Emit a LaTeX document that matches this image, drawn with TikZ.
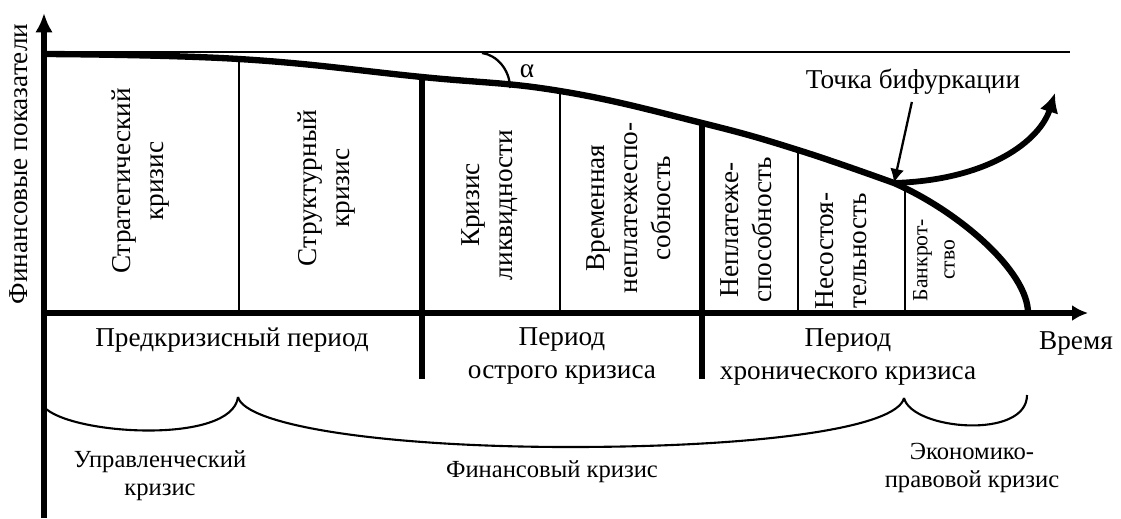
\documentclass[tikz,border=0pt]{standalone}
\usepackage{fontspec}
\setmainfont{Liberation Serif}
\usetikzlibrary{arrows.meta}

\begin{document}
\begin{tikzpicture}[x=0.02cm,y=-0.02cm,>=Latex,
  thinline/.style={line width=1.3pt},
  thickline/.style={line width=3.3pt},
  curveline/.style={line width=3.6pt},
  braceline/.style={line width=1.2pt},
  every node/.style={font=\fontsize{15.5}{18.8}\selectfont,align=center,inner sep=1pt},
  vtext/.style={rotate=90},
  smalltext/.style={font=\fontsize{14}{15.8}\selectfont},
  tinytext/.style={font=\fontsize{12.3}{15.5}\selectfont}]
\useasboundingbox (0,0) rectangle (1121,518);
% axes
\coordinate (o) at (44,313);
\coordinate (ytop) at (44,13);
\coordinate (ybot) at (44,518);
\coordinate (xend) at (1088,313);
\coordinate (low) at (44,379);
\draw[thickline,-{Latex[length=11pt,width=10pt]}] (ybot) -- (ytop);
\draw[thickline,-{Latex[length=9pt,width=9pt]}] (o) -- (xend);
\coordinate (top0) at (44,52);
\coordinate (top1) at (1070,52);
\draw[thinline] (top0) -- (top1);
% curve
\coordinate (c0) at (44,54);
\coordinate (c1) at (239,59);
\coordinate (c2) at (422,77);
\coordinate (c3) at (560,91);
\coordinate (c4) at (702,123);
\coordinate (c5) at (798,150);
\coordinate (bp) at (894,183);
\coordinate (c6) at (905,188);
\coordinate (c7) at (1028,313);
\draw[curveline] plot[smooth,tension=0.7] coordinates {(c0) (c1) (c2) (c3) (c4) (c5) (bp)}
  .. controls (960,212) and (1028,272) .. (c7);
\draw[thinline] (c1) -- (c1 |- o);
\draw[thinline] (c3) -- (c3 |- o);
\draw[thinline] (c5) -- (c5 |- o);
\draw[thinline] (c6) -- (c6 |- o);
\draw[thickline] (c2) -- (c2 |- low);
\draw[thickline] (c4) -- (c4 |- low);
% angle
\coordinate (a0) at (482,53);
\coordinate (a1) at (510,88);
\draw[thinline] (a0) .. controls (497,55) and (510,70) .. (a1);
\node (alpha) at (527,71) {α};
% bifurcation
\node (bif) at (913,82) {Точка бифуркации};
\coordinate (up) at (1055,93);
\draw[thinline,-{Latex[length=8pt,width=8pt]},shorten <=3pt] (bif.south) -- (bp);
\draw[thickline,-{Latex[length=11pt,width=11pt]}] (bp) .. controls (990,180) and (1040,140) .. (up);
% stages
\node[vtext] (strat) at (141,181) {Стратегический\\кризис};
\node[vtext] (struct) at (327,188) {Структурный\\кризис};
\node[vtext] (liq) at (490,205) {Кризис\\ликвидности};
\node[vtext] (temp) at (629,208) {Временная\\неплатежеспо-\\собность};
\node[vtext] (insolv) at (746,230) {Неплатеже-\\способность};
\node[vtext] (nesost) at (841,251) {Несостоя-\\тельность};
\node[vtext,tinytext] (bankr) at (934,260) {Банкрот-\\ство};
\node[vtext] (ylabel) at (19,164) {Финансовые показатели};
\node (time) at (1076,343) {Время};
% periods
\node (pre) at (232,340) {Предкризисный период};
\node (acute) at (562,356) {Период\\острого кризиса};
\node (chron) at (848,357) {Период\\хронического кризиса};
% braces
\coordinate (b0) at (44,407);
\coordinate (b1) at (238,397);
\coordinate (b2) at (904,398);
\coordinate (b3) at (1027,395);
\draw[braceline] (b0) .. controls (70,435) and (232,445) .. (b1);
\draw[braceline] (b1) .. controls (245,425) and (380,447) .. (570,447)
  .. controls (760,447) and (897,428) .. (b2);
\draw[braceline] (b2) .. controls (912,430) and (1027,440) .. (b3);
\node[smalltext] (mgmt) at (160,476) {Управленческий\\кризис};
\node[smalltext] (fin) at (552,472) {Финансовый кризис};
\node[smalltext] (econ) at (972,468) {Экономико-\\правовой кризис};
\end{tikzpicture}
\end{document}
